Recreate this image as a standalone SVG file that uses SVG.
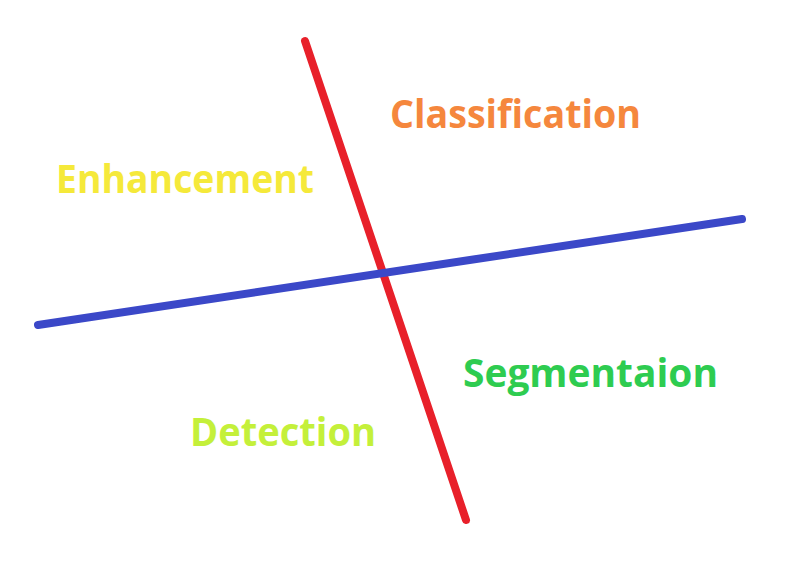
<svg xmlns="http://www.w3.org/2000/svg" width="787" height="567" viewBox="0 0 787 567">
<style>
.l{font-family:"Open Sans","Liberation Sans",sans-serif;font-weight:bold;font-size:39px}
.ln{stroke-width:8;stroke-linecap:round;fill:none}
</style>
<rect width="787" height="567" fill="#fff"/>
<g id="connectors">
<line class="ln" x1="305" y1="41" x2="466" y2="520" stroke="#E8202A"/>
<line class="ln" x1="38" y1="325" x2="742" y2="219" stroke="#3B48C8"/>
</g>
<g id="classification"><text class="l" x="390" y="128" fill="#F5873D" textLength="251" lengthAdjust="spacingAndGlyphs">Classification</text></g>
<g id="enhancement"><text class="l" x="56" y="193" fill="#F5E93A" textLength="258" lengthAdjust="spacingAndGlyphs">Enhancement</text></g>
<g id="segmentaion"><text class="l" x="463" y="387" fill="#2ECC50" textLength="255" lengthAdjust="spacingAndGlyphs">Segmentaion</text></g>
<g id="detection"><text class="l" x="190" y="446" fill="#C4F03A" textLength="186" lengthAdjust="spacingAndGlyphs">Detection</text></g>
</svg>
